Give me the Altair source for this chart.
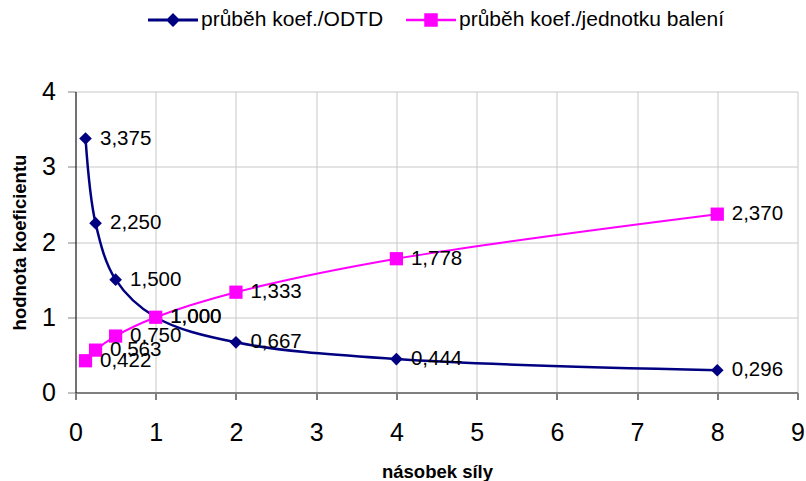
import altair as alt
import pandas as pd

# ---- data ----
x_vals = [0.125, 0.25, 0.5, 1, 2, 4, 8]
odtd = [3.375, 2.250, 1.500, 1.000, 0.667, 0.444, 0.296]
baleni = [0.422, 0.563, 0.750, 1.000, 1.333, 1.778, 2.370]
series_names = ["průběh koef./ODTD", "průběh koef./jednotku balení"]
series_colors = ["#000080", "#FF00FF"]
series_shapes = ["diamond", "square"]
series_widths = [2.5, 2.0]
series_sizes = [160, 175]
x_ticks = list(range(10))
y_ticks = [0, 1, 2, 3, 4]

rows = []
for name, vals in zip(series_names, [odtd, baleni]):
    for x, v in zip(x_vals, vals):
        rows.append({"x": x, "y": v, "series": name,
                     "label": f"{v:.3f}".replace(".", ",")})
df = pd.DataFrame(rows)

FONT = "Liberation Sans"
GRID = "#c8c8c8"

xscale = alt.Scale(domain=[0, 9], nice=False, zero=False)
yscale = alt.Scale(domain=[0, 4], nice=False)

x_enc = alt.X("x:Q", scale=xscale, axis=alt.Axis(
    values=x_ticks, title="násobek síly", format="d",
    domainColor="#808080", domainWidth=2,
    tickColor="#000000", tickSize=7, tickWidth=1,
    grid=True, gridColor=GRID, gridWidth=1,
    labelFont=FONT, labelFontSize=25, labelColor="#000000",
    labelPadding=21, labelFlush=False,
    titleFont=FONT, titleFontSize=18.5, titleFontWeight="bold", titleColor="#000000",
    titleX=361.5, titleY=84.8, titleBaseline="alphabetic", titleAlign="center"))
y_enc = alt.Y("y:Q", scale=yscale, axis=alt.Axis(
    values=y_ticks, title="hodnota koeficientu", format="d",
    domainColor="#000000", domainWidth=1,
    tickColor="#808080", tickSize=8, tickWidth=1,
    grid=True, gridColor=GRID, gridWidth=1,
    labelFont=FONT, labelFontSize=25, labelColor="#000000",
    labelPadding=12, labelFlush=False,
    titleFont=FONT, titleFontSize=18.5, titleFontWeight="bold", titleColor="#000000",
    titleX=-50.5, titleY=150.5, titleBaseline="alphabetic", titleAlign="center", titleAngle=270))

layers = []
for name, col, shp, w, sz in zip(series_names, series_colors, series_shapes,
                                 series_widths, series_sizes):
    sub = alt.Chart(df).transform_filter(alt.datum.series == name)
    layers.append(sub.mark_line(interpolate="catmull-rom", color=col, strokeWidth=w)
                  .encode(x=x_enc, y=y_enc))
    layers.append(sub.mark_point(shape=shp, filled=True, color=col, size=sz, opacity=1)
                  .encode(x=x_enc, y=y_enc))

text = alt.Chart(df).mark_text(align="left", baseline="middle", dx=14.5,
                               font=FONT, fontSize=20.5, color="#000000").encode(
    x=x_enc, y=y_enc, text="label:N")
layers.append(text)

# legend symbols: line segment + marker as custom paths
legend_paths = [
    "M-1,-0.06L1,-0.06L1,0.06L-1,0.06Z M0,-0.28L0.28,0L0,0.28L-0.28,0Z",
    "M-1,-0.05L1,-0.05L1,0.05L-1,0.05Z M-0.27,-0.27L0.27,-0.27L0.27,0.27L-0.27,0.27Z",
]
leg = dict(orient="none", legendX=72.5, legendY=-96.5, direction="horizontal",
           title=None, labelFont=FONT, labelFontSize=21, labelColor="#000000",
           symbolSize=2500, symbolStrokeWidth=0, labelOffset=3, columnPadding=22,
           padding=0, symbolOpacity=1, labelLimit=500)
legend_layer = alt.Chart(df).mark_point(filled=True, opacity=0).encode(
    x=x_enc, y=y_enc,
    fill=alt.Fill("series:N", scale=alt.Scale(domain=series_names, range=series_colors),
                  legend=alt.Legend(**leg)),
    shape=alt.Shape("series:N", scale=alt.Scale(domain=series_names, range=legend_paths),
                    legend=alt.Legend(**leg)),
)
layers.append(legend_layer)

chart = alt.layer(*layers).properties(
    width=722, height=301,
    autosize=alt.AutoSizeParams(type="none"),
    padding={"left": 75.5, "top": 91.5, "right": 8.5, "bottom": 88.5},
    background="#ffffff",
).configure_view(stroke=None)

chart.save("out.html", embed_options={"renderer": "svg", "actions": False})
